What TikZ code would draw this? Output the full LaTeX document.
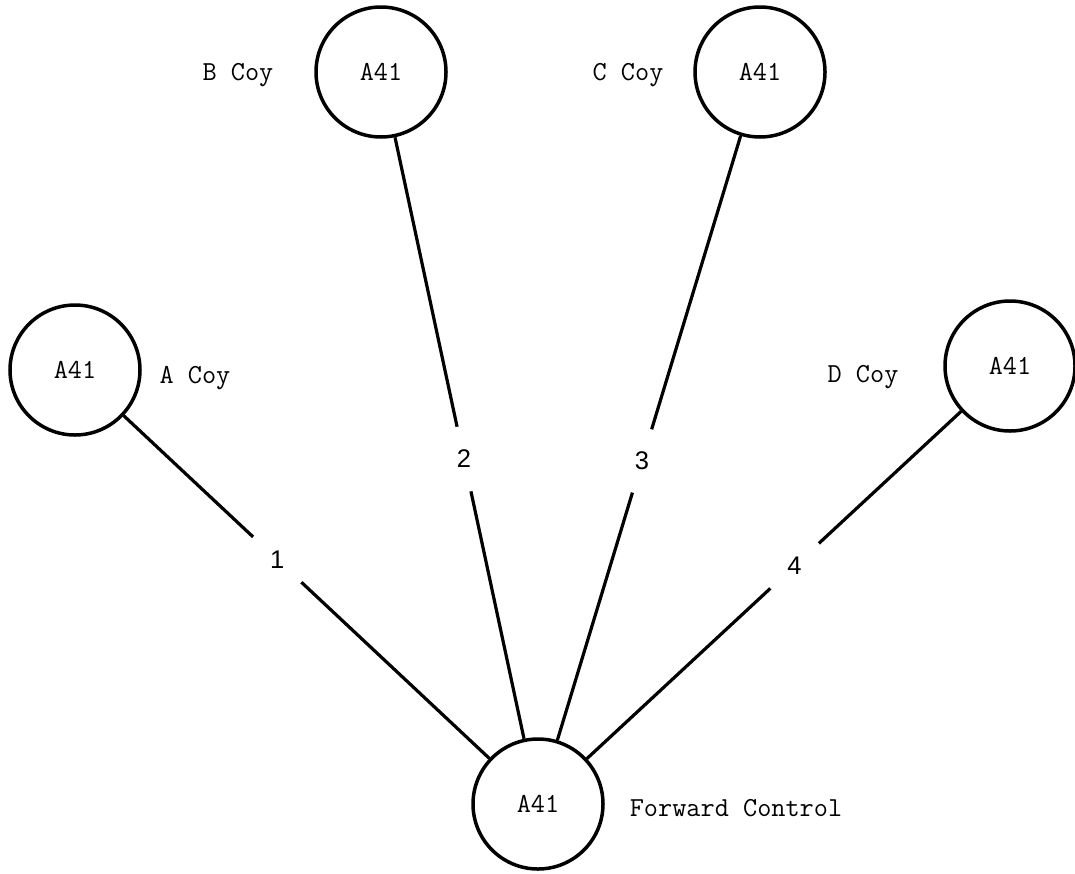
\documentclass[tikz,border=0pt]{standalone}
\usepackage{fontspec}
\newfontfamily\numfont{Liberation Sans}
\begin{document}
\begin{tikzpicture}[x=1pt,y=-1pt,
  station/.style={circle,draw=black,line width=3.5pt,minimum size=130pt,inner sep=0pt,
    font=\ttfamily\fontsize{27.5}{30}\selectfont},
  tag/.style={font=\ttfamily\fontsize{27.5}{30}\selectfont,inner sep=0pt},
  link/.style={draw=black,line width=3.2pt},
  num/.style={circle,fill=white,minimum size=66pt,inner sep=0pt,
    font=\numfont\fontsize{25.5}{28}\selectfont}]
\useasboundingbox (0,0) rectangle (1075,873);
\node[station] (A)  at (75,370)   {A41};
\node[station] (B)  at (381,72)   {A41};
\node[station] (C)  at (760,72)   {A41};
\node[station] (D)  at (1010,366) {A41};
\node[station] (FC) at (538,804)  {A41};
\node[tag] (tA)  at (195,378) {A Coy};
\node[tag] (tB)  at (238,75)  {B Coy};
\node[tag] (tC)  at (628,75)  {C Coy};
\node[tag] (tD)  at (863,377) {D Coy};
\node[tag] (tFC) at (736,808) {Forward Control};
\draw[link] (A) -- node[num,pos=0.42] (n1) {1} (FC);
\draw[link] (B) -- node[num,pos=0.535] (n2) {2} (FC);
\draw[link] (C) -- node[num,pos=0.538] (n3) {3} (FC);
\draw[link] (D) -- node[num,pos=0.445] (n4) {4} (FC);
\end{tikzpicture}
\end{document}
